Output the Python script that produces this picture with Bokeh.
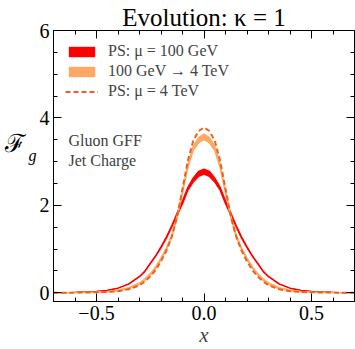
from bokeh.plotting import figure
from bokeh.models import (LinearAxis, Label, Legend, LegendItem, FixedTicker,
                          Range1d, ColumnDataSource)
from bokeh.embed import file_html
from bokeh.resources import INLINE

# ---------------- data ----------------
x = [-0.7, -0.6, -0.5, -0.45, -0.4, -0.35, -0.3, -0.275, -0.25, -0.225, -0.2,
     -0.175, -0.15, -0.125, -0.1, -0.075, -0.05, -0.025, 0.0, 0.025, 0.05,
     0.075, 0.1, 0.125, 0.15, 0.175, 0.2, 0.225, 0.25, 0.275, 0.3, 0.35, 0.4,
     0.45, 0.5, 0.6, 0.7]

# PS: mu = 100 GeV (noisy band)
ps100_hi = [0.005, 0.011, 0.031, 0.057, 0.108, 0.205, 0.375, 0.50, 0.68, 0.85,
            1.055, 1.28, 1.54, 1.83, 2.11, 2.42, 2.63, 2.78, 2.83, 2.78, 2.63,
            2.42, 2.11, 1.83, 1.54, 1.28, 1.055, 0.85, 0.68, 0.50, 0.375, 0.205,
            0.108, 0.057, 0.031, 0.011, 0.005]
ps100_lo = [0.003, 0.009, 0.029, 0.053, 0.102, 0.195, 0.365, 0.48, 0.66, 0.83,
            1.025, 1.24, 1.50, 1.77, 2.03, 2.34, 2.53, 2.66, 2.71, 2.66, 2.53,
            2.34, 2.03, 1.77, 1.50, 1.24, 1.025, 0.83, 0.66, 0.48, 0.365, 0.195,
            0.102, 0.053, 0.029, 0.009, 0.003]

# Evolved 100 GeV -> 4 TeV (band)
evo_lo = [0.0, 0.004, 0.01, 0.02, 0.04, 0.09, 0.19, 0.28, 0.40, 0.55, 0.75,
          0.98, 1.27, 1.70, 2.27, 2.85, 3.25, 3.43, 3.50, 3.43, 3.25, 2.85,
          2.27, 1.70, 1.27, 0.98, 0.75, 0.55, 0.40, 0.28, 0.19, 0.09, 0.04,
          0.02, 0.01, 0.004, 0.0]
evo_hi = [0.004, 0.008, 0.02, 0.03, 0.06, 0.12, 0.23, 0.32, 0.44, 0.60, 0.80,
          1.03, 1.33, 1.77, 2.35, 2.95, 3.36, 3.55, 3.63, 3.55, 3.36, 2.95,
          2.35, 1.77, 1.33, 1.03, 0.80, 0.60, 0.44, 0.32, 0.23, 0.12, 0.06,
          0.03, 0.02, 0.008, 0.004]

# PS: mu = 4 TeV (dashed)
ps4tev = [0.0, 0.004, 0.01, 0.018, 0.035, 0.08, 0.17, 0.26, 0.37, 0.52, 0.72,
          0.96, 1.28, 1.74, 2.38, 3.02, 3.48, 3.70, 3.78, 3.70, 3.48, 3.02,
          2.38, 1.74, 1.28, 0.96, 0.72, 0.52, 0.37, 0.26, 0.17, 0.08, 0.035,
          0.018, 0.01, 0.004, 0.0]

legend_labels = ["PS: μ = 100 GeV", "100 GeV → 4 TeV", "PS: μ = 4 TeV"]
x_major = [-0.5, 0.0, 0.5]
x_major_labels = ["−0.5", "0.0", "0.5"]
x_minor = [-0.7, -0.6, -0.4, -0.3, -0.2, -0.1, 0.1, 0.2, 0.3, 0.4, 0.6, 0.7]
y_major = [0, 2, 4, 6]
y_minor = [0.5, 1, 1.5, 2.5, 3, 3.5, 4.5, 5, 5.5]

# ---------------- figure ----------------
SERIF = "Liberation Serif"
RED = "#ff0000"
LIGHT = "#fda964"
DARK = "#e8641e"

src = ColumnDataSource(dict(x=x, r_lo=ps100_lo, r_hi=ps100_hi,
                            e_lo=evo_lo, e_hi=evo_hi, d=ps4tev))

p = figure(width=355, height=349, x_range=Range1d(-0.7, 0.7),
           y_range=Range1d(-0.2, 6.0), output_backend="svg",
           toolbar_location=None, min_border_left=53, min_border_right=1,
           min_border_top=30, min_border_bottom=46)
p.grid.visible = False
p.outline_line_color = "black"
p.outline_line_width = 1
p.background_fill_color = "white"
p.border_fill_color = "white"

p.title.text = "Evolution: κ = 1"
p.title.align = "center"
p.title.text_font = SERIF
p.title.text_font_size = "25px"
p.title.text_font_style = "normal"
p.title.text_color = "black"
p.title.standoff = 0
p.title.offset = 0

r_red = p.varea(x="x", y1="r_lo", y2="r_hi", source=src, fill_color=RED)
p.line(x="x", y="r_lo", source=src, line_color=RED, line_width=1.2)
p.line(x="x", y="r_hi", source=src, line_color=RED, line_width=1.2)
r_evo = p.varea(x="x", y1="e_lo", y2="e_hi", source=src, fill_color=LIGHT)
p.line(x="x", y="e_lo", source=src, line_color=LIGHT, line_width=1.2)
p.line(x="x", y="e_hi", source=src, line_color=LIGHT, line_width=1.2)
r_dash = p.line(x="x", y="d", source=src, line_color=DARK, line_width=2,
                line_dash="5 3")


def style_axis(ax, ticks, minor, overrides=None, show_labels=True):
    ax.ticker = FixedTicker(ticks=ticks, minor_ticks=minor)
    ax.major_tick_in = 8
    ax.major_tick_out = 0
    ax.minor_tick_in = 4
    ax.minor_tick_out = 0
    ax.axis_line_color = "black"
    ax.major_tick_line_color = "black"
    ax.minor_tick_line_color = "black"
    ax.major_label_text_font = SERIF
    ax.major_label_text_color = "black"
    if overrides:
        ax.major_label_overrides = overrides
    if show_labels:
        ax.major_label_text_font_size = "20px"
        ax.major_label_standoff = 4
    else:
        ax.major_label_text_font_size = "1px"
        ax.major_label_text_color = None
        ax.major_label_standoff = 0


style_axis(p.xaxis[0], x_major, x_minor,
           {v: s for v, s in zip(x_major, x_major_labels)})
style_axis(p.yaxis[0], y_major, y_minor)
p.xaxis[0].axis_label = "x"
p.xaxis[0].axis_label_text_font = SERIF
p.xaxis[0].axis_label_text_font_style = "italic"
p.xaxis[0].axis_label_text_font_size = "21px"
p.xaxis[0].axis_label_standoff = 0

top = LinearAxis()
right = LinearAxis()
p.add_layout(top, "above")
p.add_layout(right, "right")
style_axis(top, x_major, x_minor, show_labels=False)
style_axis(right, y_major, y_minor, show_labels=False)


def label_axis(text, size, style, line_height):
    ax = LinearAxis(ticker=FixedTicker(ticks=[], minor_ticks=[]),
                    axis_line_color=None, major_tick_line_color=None,
                    minor_tick_line_color=None, major_label_text_font_size="1px",
                    major_label_text_color=None, major_label_standoff=0,
                    major_tick_in=0, major_tick_out=0, minor_tick_in=0,
                    minor_tick_out=0)
    ax.axis_label = text
    ax.axis_label_orientation = "horizontal"
    ax.axis_label_text_font = SERIF
    ax.axis_label_text_font_size = size
    ax.axis_label_text_font_style = style
    ax.axis_label_text_color = "black"
    ax.axis_label_text_line_height = line_height
    ax.axis_label_standoff = 0
    return ax


# y-axis label "F_g" built from two stacked label-only axes; the trailing
# empty line lifts each glyph above the frame's middle
p.add_layout(label_axis("g\n", "16px", "italic", 1.2), "left")
p.add_layout(label_axis("ℱ\n", "25px", "normal", 1.7), "left")

legend = Legend(items=[LegendItem(label=legend_labels[0], renderers=[r_red]),
                       LegendItem(label=legend_labels[1], renderers=[r_evo]),
                       LegendItem(label=legend_labels[2], renderers=[r_dash])],
                location="top_left", margin=12, padding=8, spacing=2,
                glyph_width=33, glyph_height=13, label_height=13,
                label_standoff=10, label_text_font=SERIF,
                label_text_font_size="16px", background_fill_alpha=0,
                border_line_color=None)
p.add_layout(legend)

# Frame is 301 x 273 px (left 53, bottom 303)
notes = [("Gluon GFF", 161), ("Jet Charge", 141)]
for text, y in notes:
    p.add_layout(Label(x=15, y=y, x_units="screen", y_units="screen",
                       text=text, text_font=SERIF, text_font_size="16px",
                       text_baseline="alphabetic", text_color="#404040"))

open("out.html", "w").write(file_html(p, INLINE))
